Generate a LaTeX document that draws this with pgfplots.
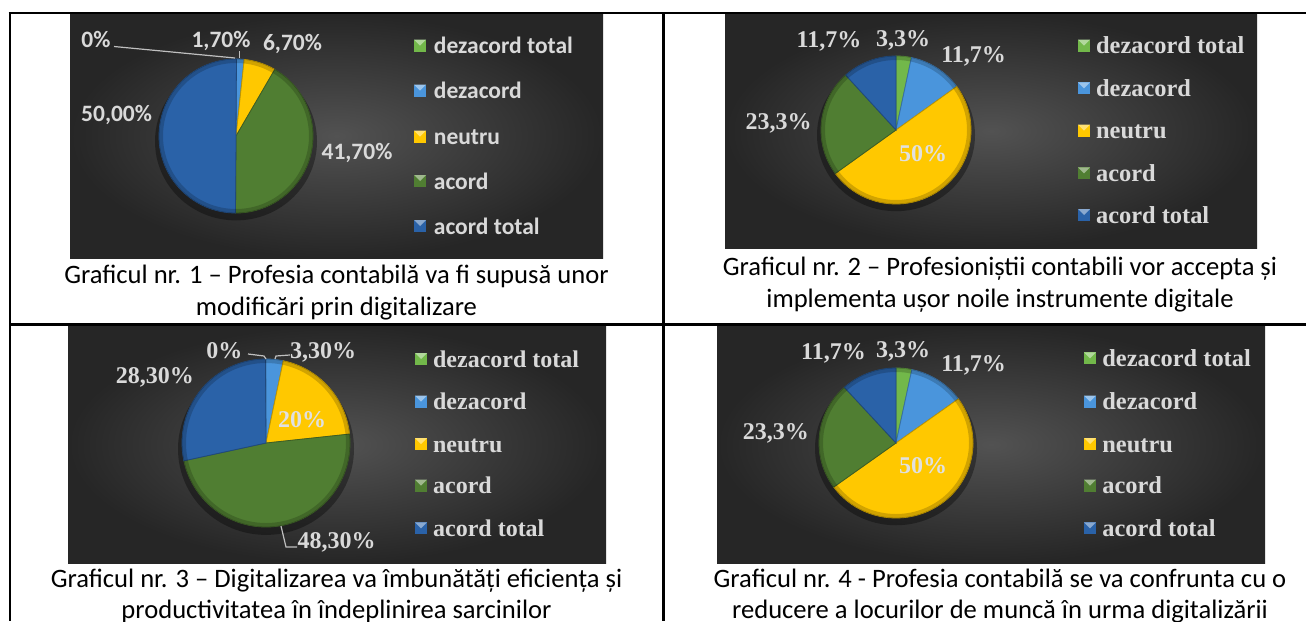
\documentclass[border=0pt]{standalone}
\usepackage{pgfplots}
\pgfplotsset{compat=1.18}
\usepackage{pgfplotstable}
\usepackage{fontspec}
\setmainfont{Carlito}
\newfontfamily\tnr{Liberation Serif}

\definecolor{dztot}{HTML}{72B84A}
\definecolor{dz}{HTML}{4A95DC}
\definecolor{neu}{HTML}{FFC800}
\definecolor{ac}{HTML}{507E32}
\definecolor{actot}{HTML}{2A62A8}
\definecolor{bgin}{HTML}{525252}
\definecolor{bgout}{HTML}{262626}
\definecolor{lab}{HTML}{D9D9D9}
\definecolor{leader}{HTML}{BFBFBF}

% Grafic 1
\pgfplotstableread{
cat v c
{dezacord total} 0 dztot
{dezacord} 1.7 dz
{neutru} 6.7 neu
{acord} 41.7 ac
{acord total} 50.0 actot
}\pieA
% Grafic 2
\pgfplotstableread{
cat v c
{dezacord total} 3.3 dztot
{dezacord} 11.7 dz
{neutru} 50 neu
{acord} 23.3 ac
{acord total} 11.7 actot
}\pieB
% Grafic 3
\pgfplotstableread{
cat v c
{dezacord total} 0 dztot
{dezacord} 3.3 dz
{neutru} 20 neu
{acord} 48.3 ac
{acord total} 28.3 actot
}\pieC
% Grafic 4
\pgfplotstableread{
cat v c
{dezacord total} 3.3 dztot
{dezacord} 11.7 dz
{neutru} 50 neu
{acord} 23.3 ac
{acord total} 11.7 actot
}\pieD

% builds the slice commands of one pie (clockwise from 12 o'clock)
\newcommand{\piecommands}[3]{%
  \gdef\piecmds{}%
  \gdef\pcum{0}%
  \pgfplotstablegetrowsof{#1}%
  \pgfmathtruncatemacro\plast{\pgfplotsretval-1}%
  \pgfmathsetmacro\prx{#2*0.5}%
  \pgfmathsetmacro\pry{#3*0.5}%
  \foreach \pr in {0,...,\plast}{%
    \pgfplotstablegetelem{\pr}{v}\of{#1}\let\pv\pgfplotsretval
    \pgfplotstablegetelem{\pr}{c}\of{#1}\let\pcol\pgfplotsretval
    \pgfmathsetmacro\pa{90-3.6*\pcum}%
    \pgfmathsetmacro\pb{90-3.6*(\pcum+\pv)}%
    \pgfmathsetmacro\pca{cos(\pa)}%
    \pgfmathsetmacro\psa{sin(\pa)}%
    \ifdim\pv pt>0pt
      \xdef\piecmds{\unexpanded\expandafter{\piecmds}\noexpand\fill[\pcol, draw=\pcol!75!black, line width=0.4pt] (axis cs:0,0) -- (axis cs:\pca,\psa) arc[start angle=\pa, end angle=\pb, x radius=\prx pt, y radius=\pry pt] -- cycle;}%
    \fi
    \pgfmathsetmacro\pnc{\pcum+\pv}\xdef\pcum{\pnc}%
  }%
}

\newcommand{\pieaxis}[5]{% center x, center y, rx, ry (px), table
  \piecommands{#5}{#3}{#4}%
  \pgfmathsetmacro\aw{#3}\pgfmathsetmacro\ah{#4}%
  \pgfmathsetmacro\atx{#1*0.5}\pgfmathsetmacro\aty{-#2*0.5}%
  \pgfmathsetmacro\shx{#3*0.5+2}\pgfmathsetmacro\shy{#4*0.5+1}%
  \pgfmathsetmacro\rix{#3*0.5-1}\pgfmathsetmacro\riy{#4*0.5-1}%
  \begin{axis}[at={(\atx pt,\aty pt)}, anchor=center, hide axis, scale only axis,
    width=\aw pt, height=\ah pt, xmin=-1, xmax=1, ymin=-1, ymax=1, clip=false]
    \addplot[draw=none, mark=none, forget plot] coordinates {(-1,-1) (1,1)};
    \fill[black, opacity=0.35] (axis cs:0,-0.07) ellipse[x radius=\shx pt, y radius=\shy pt];
    \piecmds
    \draw[black, opacity=0.18, line width=2pt] (axis cs:0,0) ellipse[x radius=\rix pt, y radius=\riy pt];
  \end{axis}%
}

\newcommand{\pielegend}[8]{% marker x, text x, five y centres, font
  \foreach \yy/\cc/\lt in {#3/dztot/dezacord total,#4/dz/dezacord,#5/neu/neutru,#6/ac/acord,#7/actot/acord total}{%
    \fill[\cc] (#1-6,\yy-6) rectangle (#1+6,\yy+6);
    \fill[\cc!55!white] (#1-6,\yy-6) -- (#1+6,\yy-6) -- (#1,\yy) -- cycle;
    \node[anchor=base west, inner sep=0pt, text=lab, font=#8] at (#2,\yy+8) {\lt};
  }%
}

\begin{document}
\begin{tikzpicture}[x=0.5pt, y=-0.5pt]
\path[use as bounding box] (0,0) rectangle (1306,621);
\fill[white] (0,0) rectangle (1306,621);

% panels
\shade[inner color=bgin, outer color=bgout] (70,14) rectangle (603,258);
\shade[inner color=bgin, outer color=bgout] (725,14) rectangle (1257,248);
\shade[inner color=bgin, outer color=bgout] (68,326) rectangle (606,563);
\shade[inner color=bgin, outer color=bgout] (717,326) rectangle (1265,563);

% pies
\pieaxis{236}{136}{77}{77}{\pieA}
\pieaxis{896}{130}{75}{74}{\pieB}
\pieaxis{266}{443}{84}{84}{\pieC}
\pieaxis{896}{443}{77}{75}{\pieD}

% leader lines
\draw[leader, line width=0.6pt] (114,46.5) -- (235,58);
\draw[leader, line width=0.6pt] (239.5,51) -- (239.5,58);
\draw[leader, line width=0.6pt] (248,354) -- (264,356) -- (266,359);
\draw[leader, line width=0.6pt] (290,355) -- (276,356) -- (275,359);
\draw[leader, line width=0.6pt] (281,526) -- (286,547) -- (297,547);

% data labels, chart 1 (Carlito bold)
\begin{scope}[every node/.style={anchor=base, inner sep=0pt, text=lab, font=\bfseries\fontsize{11.75pt}{13pt}\selectfont}]
\node at (96,47.5) {0\%};
\node at (221,47) {1,70\%};
\node at (292.5,50.5) {6,70\%};
\node at (116.6,121.5) {50,00\%};
\node at (357,159.5) {41,70\%};
\end{scope}

% data labels, charts 2-4 (Times-like bold)
\begin{scope}[every node/.style={anchor=base, inner sep=0pt, text=lab, font=\tnr\bfseries\fontsize{12pt}{14pt}\selectfont}]
\node at (829,47.3) {11,7\%};
\node at (903,46.3) {3,3\%};
\node at (973.6,62) {11,7\%};
\node at (778.7,129.7) {23,3\%};
\node[text=white!88!black] at (923,161.3) {50\%};

\node at (224.3,358) {0\%};
\node at (323.2,358) {3,30\%};
\node at (154.9,383) {28,30\%};
\node[text=white!88!black] at (302.2,427.3) {20\%};
\node at (336.7,548) {48,30\%};

\node at (833.5,359.7) {11,7\%};
\node at (903,357.3) {3,3\%};
\node at (973.6,371.3) {11,7\%};
\node at (775.8,439.7) {23,3\%};
\node[text=white!88!black] at (923,473.7) {50\%};
\end{scope}

% legends
\pielegend{420}{433.5}{45.7}{90.7}{136.7}{181}{226}{\bfseries\fontsize{11.75pt}{13pt}\selectfont}
\pielegend{1084}{1095.7}{45.7}{88.3}{130.7}{173.3}{215}{\tnr\bfseries\fontsize{12.2pt}{14pt}\selectfont}
\pielegend{421}{432.7}{359}{401.7}{444}{485.7}{528.3}{\tnr\bfseries\fontsize{12pt}{14pt}\selectfont}
\pielegend{1090}{1102}{358.3}{401.7}{444}{485.7}{528.3}{\tnr\bfseries\fontsize{12.2pt}{14pt}\selectfont}

% captions
\begin{scope}[every node/.style={anchor=base, inner sep=0pt, font=\fontsize{13.3pt}{16pt}\selectfont}]
\node at (336.5,283) {Graficul nr. 1 – Profesia contabilă va fi supusă unor};
\node at (336.5,315) {modificări prin digitalizare};
\node at (1000,275) {Graficul nr. 2 – Profesioniștii contabili vor accepta și};
\node at (1000,307) {implementa ușor noile instrumente digitale};
\node at (336.5,587) {Graficul nr. 3 – Digitalizarea va îmbunătăți eficiența și};
\node at (336.5,618.5) {productivitatea în îndeplinirea sarcinilor};
\node at (1000,587) {Graficul nr. 4 - Profesia contabilă se va confrunta cu o};
\node at (1000,618.5) {reducere a locurilor de muncă în urma digitalizării};
\end{scope}

% table rules
\draw[line width=1.25pt] (8.5,13) -- (1306,13);
\draw[line width=1.25pt] (10,12) -- (10,621);
\draw[line width=1.25pt] (663.5,13) -- (663.5,621);
\draw[line width=1.25pt] (10,324.5) -- (1306,324.5);
\end{tikzpicture}
\end{document}
